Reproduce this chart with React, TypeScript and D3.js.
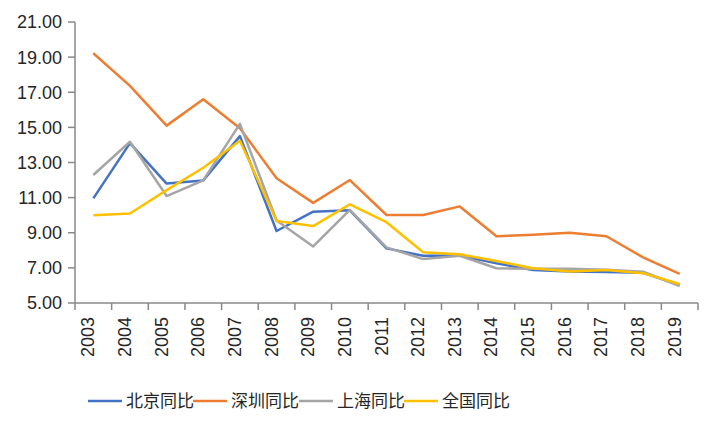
import React, { useEffect, useRef } from 'react';
import * as d3 from 'd3';

const years = ['2003', '2004', '2005', '2006', '2007', '2008', '2009', '2010', '2011', '2012', '2013', '2014', '2015', '2016', '2017', '2018', '2019'];

const beijing = [10.96, 14.1, 11.8, 11.98, 14.5, 9.1, 10.2, 10.28, 8.11, 7.69, 7.7, 7.26, 6.88, 6.8, 6.76, 6.72, 6.03];
const shenzhen = [19.22, 17.36, 15.1, 16.6, 14.95, 12.1, 10.7, 12.0, 10.01, 10.01, 10.5, 8.8, 8.88, 9.0, 8.8, 7.6, 6.66];
const shanghai = [12.29, 14.18, 11.09, 11.98, 15.2, 9.7, 8.22, 10.3, 8.17, 7.5, 7.69, 6.98, 6.95, 6.95, 6.9, 6.78, 5.97];
const national = [9.99, 10.1, 11.43, 12.7, 14.24, 9.67, 9.38, 10.62, 9.6, 7.89, 7.77, 7.39, 6.98, 6.8, 6.88, 6.7, 6.08];

const yTicks = [5, 7, 9, 11, 13, 15, 17, 19, 21];

const seriesList = [
    { name: '北京同比', values: beijing, color: '#4472C4' },
    { name: '深圳同比', values: shenzhen, color: '#ED7D31' },
    { name: '上海同比', values: shanghai, color: '#A5A5A5' },
    { name: '全国同比', values: national, color: '#FFC000' },
];

const W = 720;
const H = 432;
const margin = { top: 22, right: 22, bottom: 129, left: 75 };
const axisColor = '#898989';
const textColor = '#262626';

const drawChart = (svgEl: SVGSVGElement) => {
    const svg = d3.select(svgEl);
    svg.selectAll('*').remove();

    const width = W - margin.left - margin.right;
    const height = H - margin.top - margin.bottom;

    const x = d3.scaleBand().domain(years).range([0, width]);
    const y = d3.scaleLinear().domain([5, 21]).range([height, 0]);

    const g = svg.append('g').attr('transform', `translate(${margin.left},${margin.top})`);

    // --- Y axis ---
    g.append('line')
        .attr('x1', 0).attr('x2', 0)
        .attr('y1', 0).attr('y2', height)
        .attr('stroke', axisColor).attr('stroke-width', 1.5);

    yTicks.forEach(t => {
        g.append('line')
            .attr('x1', -7).attr('x2', 0)
            .attr('y1', y(t)).attr('y2', y(t))
            .attr('stroke', axisColor).attr('stroke-width', 1.5);
        g.append('text')
            .attr('x', -13)
            .attr('y', y(t))
            .attr('dy', '0.36em')
            .attr('text-anchor', 'end')
            .style('font-family', '"Liberation Sans", Arial, sans-serif')
            .style('font-size', '18px')
            .style('fill', textColor)
            .text(t.toFixed(2));
    });

    // --- X axis ---
    g.append('line')
        .attr('x1', 0).attr('x2', width)
        .attr('y1', height).attr('y2', height)
        .attr('stroke', axisColor).attr('stroke-width', 1.5);

    const tickXs = years.map(d => x(d) as number).concat([width]);
    tickXs.forEach(tx => {
        g.append('line')
            .attr('x1', tx).attr('x2', tx)
            .attr('y1', height).attr('y2', height + 7)
            .attr('stroke', axisColor).attr('stroke-width', 1.5);
    });

    years.forEach(d => {
        const cx = (x(d) as number) + x.bandwidth() / 2 + 1;
        g.append('text')
            .attr('transform', `translate(${cx},${height + 14}) rotate(-90)`)
            .attr('text-anchor', 'end')
            .style('font-family', '"Liberation Sans", Arial, sans-serif')
            .style('font-size', '18px')
            .style('fill', textColor)
            .text(d);
    });

    // --- Lines ---
    const line = d3.line<number>()
        .x((_d, i) => (x(years[i]) as number) + x.bandwidth() / 2)
        .y(d => y(d));

    seriesList.forEach(s => {
        g.append('path')
            .datum(s.values)
            .attr('d', line)
            .attr('fill', 'none')
            .attr('stroke', s.color)
            .attr('stroke-width', 2.5)
            .attr('stroke-linejoin', 'round');
    });

    // --- Legend ---
    const legendXs = [88, 193, 299, 404];
    const legendY = 401;
    seriesList.forEach((s, i) => {
        const lx = legendXs[i];
        svg.append('line')
            .attr('x1', lx).attr('x2', lx + 34)
            .attr('y1', legendY).attr('y2', legendY)
            .attr('stroke', s.color).attr('stroke-width', 2.5);
        svg.append('text')
            .attr('x', lx + 38)
            .attr('y', legendY)
            .attr('dy', '0.36em')
            .style('font-family', '"Noto Sans CJK SC", sans-serif')
            .style('font-size', '17px')
            .style('fill', textColor)
            .text(s.name);
    });
};

const App: React.FC = () => {
    const ref = useRef<SVGSVGElement | null>(null);
    useEffect(() => {
        if (ref.current) drawChart(ref.current);
    }, []);
    return (
        <svg
            ref={ref}
            width={W}
            height={H}
            viewBox={`0 0 ${W} ${H}`}
            style={{ position: 'absolute', left: 0, top: 0, background: '#fff', display: 'block' }}
        />
    );
};

export default App;
